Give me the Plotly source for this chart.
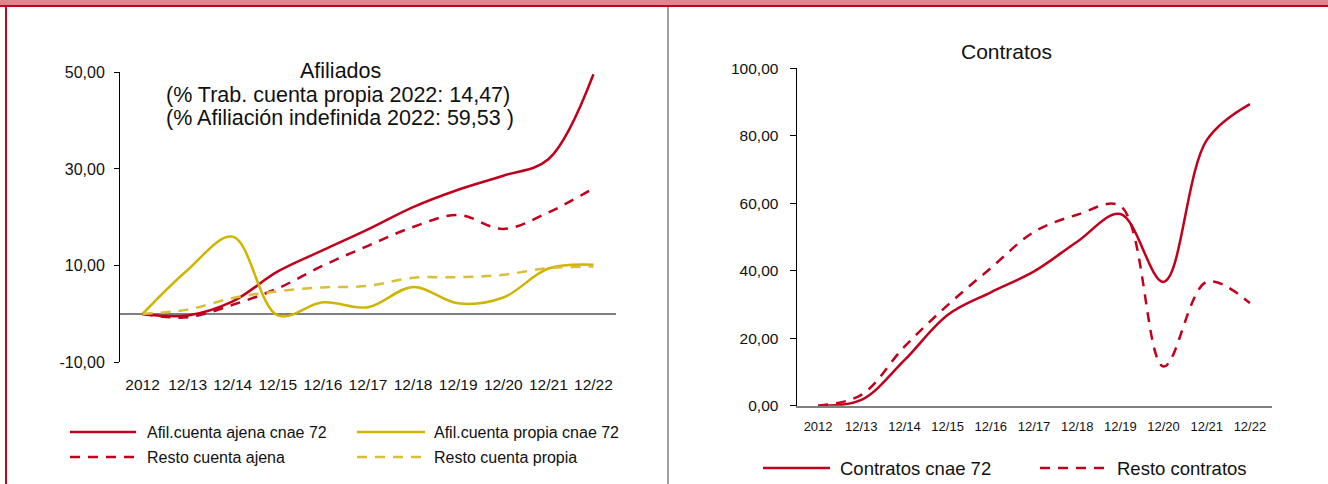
import plotly.graph_objects as go

W, H = 1328, 484

categories = ["2012", "12/13", "12/14", "12/15", "12/16", "12/17",
              "12/18", "12/19", "12/20", "12/21", "12/22"]

afil_ajena_72 = [0, -0.3, 2.6, 8.8, 13.2, 17.5, 22.1, 25.7, 28.6, 32.0, 49.6]
resto_ajena = [0, -0.7, 1.9, 5.3, 10.0, 14.1, 18.0, 20.5, 17.6, 21.0, 26.0]
afil_propia_72 = [0, 9.1, 16.0, -0.3, 2.4, 1.4, 5.6, 2.2, 3.4, 9.4, 10.2]
resto_propia = [0, 0.9, 3.3, 4.7, 5.5, 5.8, 7.5, 7.6, 8.1, 9.5, 9.8]

contratos_72 = [0, 1.7, 13.5, 26.9, 33.6, 39.8, 48.6, 56.8, 36.7, 78.7, 89.4]
resto_contratos = [0, 3.2, 17.5, 29.8, 40.8, 51.5, 56.6, 59.2, 11.6, 36.7, 30.4]

left_ticks = [-10, 10, 30, 50]
left_ticktext = ["-10,00", "10,00", "30,00", "50,00"]
right_ticks = [0, 20, 40, 60, 80, 100]
right_ticktext = ["0,00", "20,00", "40,00", "60,00", "80,00", "100,00"]

RED = "#C0001C"
YEL = "#D0B400"
YEL2 = "#D8BE3A"
FONT = "Arial, Liberation Sans, sans-serif"
TXT = "#111111"


def px(x):
    return x / W


def py(y):
    return 1 - y / H


fig = go.Figure()

fig.add_trace(go.Scatter(x=categories, y=afil_ajena_72, name="Afil.cuenta ajena cnae 72",
                         mode="lines", line=dict(color=RED, width=2.5, shape="spline"),
                         xaxis="x", yaxis="y"))
fig.add_trace(go.Scatter(x=categories, y=afil_propia_72, name="Afil.cuenta propia cnae 72",
                         mode="lines", line=dict(color=YEL, width=2.5, shape="spline"),
                         xaxis="x", yaxis="y"))
fig.add_trace(go.Scatter(x=categories, y=resto_ajena, name="Resto cuenta ajena",
                         mode="lines", line=dict(color=RED, width=2.5, shape="spline", dash="10px,8px"),
                         xaxis="x", yaxis="y"))
fig.add_trace(go.Scatter(x=categories, y=resto_propia, name="Resto cuenta propia",
                         mode="lines", line=dict(color=YEL2, width=2.5, shape="spline", dash="10px,8px"),
                         xaxis="x", yaxis="y"))

fig.add_trace(go.Scatter(x=categories, y=contratos_72, name="Contratos cnae 72",
                         mode="lines", line=dict(color=RED, width=2.5, shape="spline"),
                         xaxis="x2", yaxis="y2"))
fig.add_trace(go.Scatter(x=categories, y=resto_contratos, name="Resto contratos",
                         mode="lines", line=dict(color=RED, width=2.5, shape="spline", dash="10px,8px"),
                         xaxis="x2", yaxis="y2"))

fig.update_traces(showlegend=False, hoverinfo="skip")

fig.update_layout(
    width=W, height=H, autosize=False,
    margin=dict(l=0, r=0, t=0, b=0, pad=0, autoexpand=False),
    paper_bgcolor="white", plot_bgcolor="white",
    font=dict(family=FONT, color=TXT, size=14),
    showlegend=False,
    xaxis=dict(domain=[px(120), px(616)], anchor="y", type="category", automargin=False,
               range=[-0.5, 10.5], showgrid=False, showline=False, zeroline=False,
               ticks="outside", ticklen=8, tickcolor="rgba(0,0,0,0)",
               tickfont=dict(size=15.5, family=FONT, color=TXT)),
    yaxis=dict(domain=[py(362.3), py(72.3)], anchor="x", range=[-10, 50], automargin=False,
               tickvals=left_ticks, ticktext=left_ticktext,
               showgrid=False, showline=True, linecolor="#000000", linewidth=1,
               ticks="outside", ticklen=5, tickcolor="#000000", ticklabelstandoff=6,
               zeroline=True, zerolinecolor="#7F7F7F", zerolinewidth=1.5,
               tickfont=dict(size=16, family=FONT, color=TXT)),
    xaxis2=dict(domain=[px(796.5), px(1271.5)], anchor="y2", type="category", automargin=False,
                range=[-0.5, 10.5], showgrid=False, showline=True,
                linecolor="#808080", linewidth=2, zeroline=False,
                ticks="outside", ticklen=8, tickcolor="rgba(0,0,0,0)",
                tickfont=dict(size=13, family=FONT, color=TXT)),
    yaxis2=dict(domain=[py(405.7), py(68.3)], anchor="x2", range=[0, 100], automargin=False,
                tickvals=right_ticks, ticktext=right_ticktext,
                showgrid=False, showline=True, linecolor="#000000", linewidth=1,
                ticks="outside", ticklen=6, tickcolor="#000000", ticklabelstandoff=8,
                zeroline=False, tickfont=dict(size=15.5, family=FONT, color=TXT)),
)

shapes = [
    dict(type="rect", xref="paper", yref="paper", x0=0, x1=1, y0=py(5), y1=1,
         fillcolor="#DE858E", line=dict(width=0), layer="above"),
    dict(type="rect", xref="paper", yref="paper", x0=0, x1=1, y0=py(7), y1=py(5),
         fillcolor=RED, line=dict(width=0), layer="above"),
    dict(type="rect", xref="paper", yref="paper", x0=px(5), x1=px(7), y0=0, y1=py(5),
         fillcolor=RED, line=dict(width=0), layer="above"),
    dict(type="line", xref="paper", yref="paper", x0=px(668), x1=px(668), y0=0, y1=py(7),
         line=dict(color="#A0A0A0", width=2)),
]

legend_items = [
    # (x0, x1, y, color, dash, text_x, text, size)
    (70, 136, 432, RED, "solid", 145, "Afil.cuenta ajena cnae 72", 16),
    (70, 136, 457, RED, "10px,8px", 145, "Resto cuenta ajena", 16),
    (357, 425, 432, YEL, "solid", 432, "Afil.cuenta propia cnae 72", 16),
    (357, 425, 457, YEL2, "10px,8px", 432, "Resto cuenta propia", 16),
    (763, 830, 468, RED, "solid", 838, "Contratos cnae 72", 18.5),
    (1040, 1106, 468, RED, "10px,8px", 1115, "Resto contratos", 18.5),
]

annotations = []
for x0, x1, y, color, dash, tx, text, size in legend_items:
    shapes.append(dict(type="line", xref="paper", yref="paper", x0=px(x0), x1=px(x1),
                       y0=py(y), y1=py(y), line=dict(color=color, width=2.5, dash=dash)))
    annotations.append(dict(xref="paper", yref="paper", x=px(tx), y=py(y), xanchor="left",
                            yanchor="middle", text=text, showarrow=False,
                            font=dict(size=size, family=FONT, color=TXT)))

title_lines = [
    (340, 71, "Afiliados"),
    (338, 94.5, "(% Trab. cuenta propia 2022: 14,47)"),
    (340, 118, "(% Afiliación indefinida 2022: 59,53 )"),
]
for x, y, text in title_lines:
    annotations.append(dict(xref="paper", yref="paper", x=px(x), y=py(y), xanchor="center",
                            yanchor="middle", text=text, showarrow=False,
                            font=dict(size=21.5, family=FONT, color=TXT)))

annotations.append(dict(xref="paper", yref="paper", x=px(1006), y=py(51), xanchor="center",
                        yanchor="middle", text="Contratos", showarrow=False,
                        font=dict(size=21, family=FONT, color=TXT)))

fig.update_layout(shapes=shapes, annotations=annotations)

page_css = (
    "html,body{margin:0 !important;padding:0 !important;overflow:hidden !important;"
    "width:1328px;height:484px;background:#fff;}"
    ".plotly-graph-div{position:fixed !important;top:0 !important;left:0 !important;}"
)

fig.write_html(
    "out.html",
    config={"responsive": False, "displayModeBar": False},
    post_script=(
        "var s=document.createElement('style');"
        "s.textContent=" + repr(page_css) + ";"
        "(document.head||document.documentElement).appendChild(s);"
    ),
)
